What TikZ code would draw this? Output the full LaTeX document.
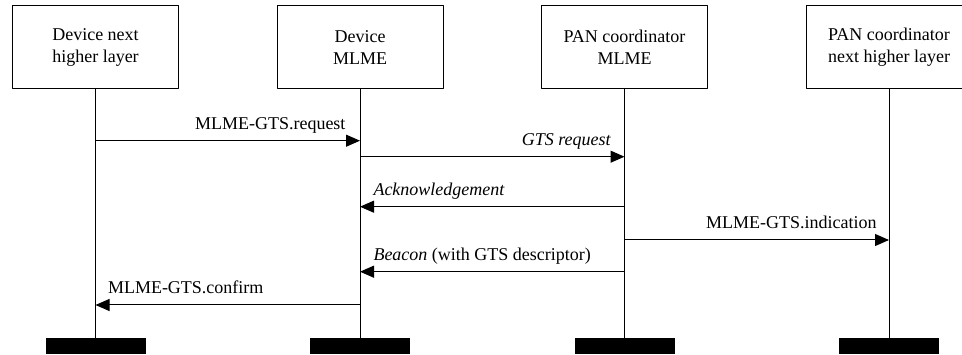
\documentclass[tikz,border=0pt]{standalone}
\usepackage{fontspec}
\setmainfont{Liberation Serif}
\usetikzlibrary{arrows.meta,positioning}
\tikzset{>={Triangle[length=14pt,width=12pt]}}

\begin{document}
\begin{tikzpicture}[x=1pt,y=-1pt,line join=round,
    layer/.style={draw,line width=1pt,minimum width=166pt,minimum height=83pt,
      align=center,font=\fontsize{18}{21.7}\selectfont},
    endbar/.style={fill=black,minimum width=100pt,minimum height=16pt,inner sep=0pt},
    msg/.style={->,line width=1pt},
    lbl/.style={font=\fontsize{18}{21}\selectfont,inner sep=0pt}]
    \useasboundingbox (0,0) rectangle (962,355);

    \node[layer] (dev)   at (95.5,47.5)  {Device next\\higher layer};
    \node[layer] (mlme)  at (360,47.5)   {Device\\MLME};
    \node[layer] (pan)   at (624.5,47.5) {PAN coordinator\\MLME};
    \node[layer] (panhl) at (889,47.5)   {PAN coordinator\\next higher layer};

    \foreach \n in {dev,mlme,pan,panhl}
    {
    \coordinate (\n-end) at (\n.south |- 0,337.7);
    \draw[line width=1pt] (\n.south) -- (\n-end);
    \node[endbar,below=0pt of \n-end] (\n-bar) {};
    }

    \draw[msg] (dev |- 0,140.7) -- (mlme |- 0,140.7)
      node[lbl,pos=1,anchor=base east,xshift=-14pt,yshift=11.5pt] {MLME-GTS.request};
    \draw[msg] (mlme |- 0,156.7) -- (pan |- 0,156.7)
      node[lbl,pos=1,anchor=base east,xshift=-13pt,yshift=11pt] {\textit{GTS request}};
    \draw[msg] (pan |- 0,206.7) -- (mlme |- 0,206.7)
      node[lbl,pos=1,anchor=base west,xshift=13pt,yshift=11pt] {\textit{Acknowledgement}};
    \draw[msg] (pan |- 0,240) -- (panhl |- 0,240)
      node[lbl,pos=1,anchor=base east,xshift=-12pt,yshift=11pt] {MLME-GTS.indication};
    \draw[msg] (pan |- 0,271.7) -- (mlme |- 0,271.7)
      node[lbl,pos=1,anchor=base west,xshift=13pt,yshift=11pt] {\textit{Beacon} (with GTS descriptor)};
    \draw[msg] (mlme |- 0,305) -- (dev |- 0,305)
      node[lbl,pos=1,anchor=base west,xshift=12pt,yshift=11pt] {MLME-GTS.confirm};
\end{tikzpicture}
\end{document}
